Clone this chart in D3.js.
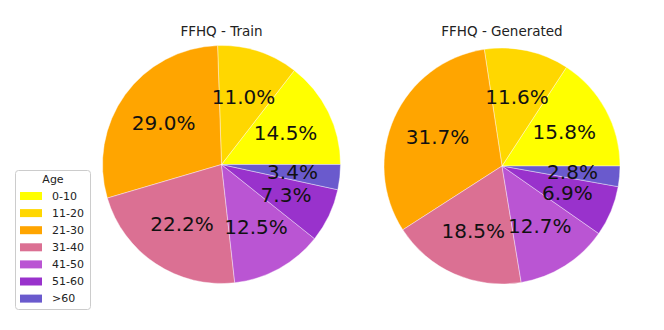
<!DOCTYPE html>
<html>
	<head>
		<style>
			body {
				margin: 0;
				background: #fff;
			}

			#chart {
				display: block;
				font-family: 'DejaVu Sans', sans-serif;
			}
		</style>
	</head>
	<body>
		<svg id="chart" width="664" height="330"></svg>
		<script src="https://cdnjs.cloudflare.com/ajax/libs/d3/7.8.5/d3.min.js"></script>

		<script>
			let ageGroups = ['0-10', '11-20', '21-30', '31-40', '41-50', '51-60', '>60'];
			let trainShares = [14.5, 11.0, 29.0, 22.2, 12.5, 7.3, 3.4];
			let generatedShares = [15.8, 11.6, 31.7, 18.5, 12.7, 6.9, 2.8];
			let titles = ['FFHQ - Train', 'FFHQ - Generated'];
			let colors = [
				'#ffff00',
				'#ffd700',
				'#ffa500',
				'#db7093',
				'#ba55d3',
				'#9932cc',
				'#6a5acd',
			];

			let color = d3.scaleOrdinal().domain(ageGroups).range(colors);

			let pies = [
				{ title: titles[0], values: trainShares, cx: 221.5, cy: 164.5, r: 119 },
				{ title: titles[1], values: generatedShares, cx: 502, cy: 166, r: 118 },
			];

			let svg = d3.select('#chart');

			// matplotlib style: start at 3 o'clock, go counterclockwise
			let generator = d3
				.pie()
				.sort(null)
				.value(d => d.value)
				.startAngle(Math.PI / 2)
				.endAngle(Math.PI / 2 - 2 * Math.PI);

			pies.forEach(p => {
				let g = svg
					.append('g')
					.attr('transform', `translate(${p.cx}, ${p.cy})`);

				let slices = generator(
					p.values.map((v, i) => ({ group: ageGroups[i], value: v }))
				);

				let arc = d3.arc().innerRadius(0).outerRadius(p.r);
				let labelArc = d3
					.arc()
					.innerRadius(p.r * 0.6)
					.outerRadius(p.r * 0.6);

				g.selectAll('path')
					.data(slices)
					.enter()
					.append('path')
					.attr('d', arc)
					.style('fill', d => color(d.data.group))
					.style('stroke', '#fff')
					.style('stroke-width', 0.4);

				g.selectAll('text.pct')
					.data(slices)
					.enter()
					.append('text')
					.attr('class', 'pct')
					.attr('transform', d => `translate(${labelArc.centroid(d)})`)
					.attr('text-anchor', 'middle')
					.attr('dominant-baseline', 'central')
					.style('font-size', '20px')
					.style('fill', '#111')
					.text(d => d.data.value.toFixed(1) + '%');

				svg.append('text')
					.attr('x', p.cx)
					.attr('y', 36)
					.attr('text-anchor', 'middle')
					.style('font-size', '13.5px')
					.style('fill', '#222')
					.text(p.title);
			});

			// legend
			let legend = svg.append('g').attr('transform', 'translate(15, 170)');

			legend
				.append('rect')
				.attr('x', 0.5)
				.attr('y', 0.5)
				.attr('width', 75)
				.attr('height', 139)
				.attr('rx', 3)
				.style('fill', '#fff')
				.style('fill-opacity', 0.8)
				.style('stroke', '#ccc');

			legend
				.append('text')
				.attr('x', 38)
				.attr('y', 13)
				.attr('text-anchor', 'middle')
				.style('font-size', '11px')
				.style('fill', '#222')
				.text('Age');

			let rows = legend
				.selectAll('g.row')
				.data(ageGroups)
				.enter()
				.append('g')
				.attr('class', 'row')
				.attr('transform', (d, i) => `translate(0, ${26 + i * 17.1})`);

			rows.append('rect')
				.attr('x', 5)
				.attr('y', -4)
				.attr('width', 22)
				.attr('height', 8)
				.style('fill', d => color(d));

			rows.append('text')
				.attr('x', 37)
				.attr('y', 0)
				.attr('dominant-baseline', 'central')
				.style('font-size', '11px')
				.style('fill', '#222')
				.text(d => d);
		</script>
	</body>
</html>
